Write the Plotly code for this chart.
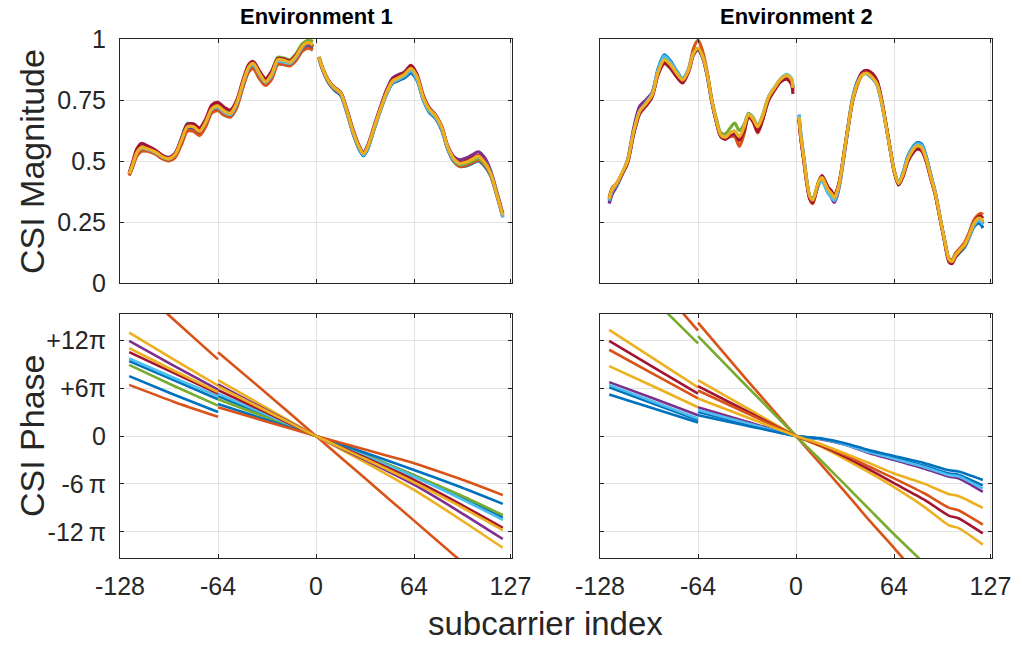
import plotly.graph_objects as go

# ---------------- colours (MATLAB default order) ----------------
C_BLUE = "#0072BD"
C_ORANGE = "#D95319"
C_YELLOW = "#EDB120"
C_PURPLE = "#7E2F8E"
C_GREEN = "#77AC30"
C_LBLUE = "#4DBEEE"
C_DRED = "#A2142F"

# ---------------- axis ticks ----------------
x_tick_vals = [-128, -64, 0, 64, 127]
x_tick_text = ["-128", "-64", "0", "64", "127"]
mag_tick_vals = [0, 0.25, 0.5, 0.75, 1]
mag_tick_text = ["0", "0.25", "0.5", "0.75", "1"]
phase_tick_vals = [-12, -6, 0, 6, 12]          # in units of pi
phase_tick_text = ["-12\u2009\u03c0", "-6\u2009\u03c0", "0", "+6\u03c0", "+12\u03c0"]

# ---------------- Environment 1 : magnitude ----------------
env1_mag_x_left = [-122, -120, -117, -114, -110, -105, -100, -96, -92, -88, -84, -80, -76, -72, -68, -64,
                   -60, -56, -52, -48, -44, -41, -37, -33, -29, -25, -21, -17, -13, -9, -5, -2]
env1_mag_x_right = [2, 4, 8, 12, 16, 20, 24, 28, 31, 34, 38, 42, 46, 50, 54, 58,
                    62, 66, 70, 74, 78, 82, 86, 90, 94, 98, 102, 106, 110, 114, 118, 122]

env1_mag_blue = [0.448, 0.478, 0.53, 0.55, 0.545, 0.532, 0.512, 0.505, 0.522, 0.575, 0.632, 0.628, 0.612, 0.65, 0.705, 0.715,
                 0.698, 0.688, 0.725, 0.805, 0.878, 0.89, 0.85, 0.82, 0.848, 0.9, 0.9, 0.895, 0.92, 0.96, 0.972, 0.965,
                 0.92, 0.878, 0.822, 0.79, 0.77, 0.7, 0.615, 0.55, 0.522, 0.552, 0.63, 0.705, 0.772, 0.818, 0.83, 0.842,
                 0.86, 0.83, 0.75, 0.7, 0.675, 0.628, 0.548, 0.498, 0.478, 0.48, 0.49, 0.5, 0.48, 0.44, 0.36, 0.27]
env1_mag_orange = [0.44, 0.47, 0.52, 0.54, 0.54, 0.528, 0.508, 0.5, 0.515, 0.565, 0.622, 0.622, 0.605, 0.642, 0.697, 0.706,
                   0.688, 0.68, 0.715, 0.795, 0.865, 0.878, 0.838, 0.81, 0.835, 0.895, 0.895, 0.89, 0.912, 0.95, 0.962, 0.955,
                   0.92, 0.88, 0.825, 0.795, 0.775, 0.705, 0.62, 0.555, 0.528, 0.56, 0.635, 0.708, 0.775, 0.822, 0.835, 0.85,
                   0.872, 0.838, 0.757, 0.708, 0.68, 0.635, 0.552, 0.5, 0.478, 0.482, 0.493, 0.503, 0.485, 0.445, 0.362, 0.272]
env1_mag_purple = [0.445, 0.478, 0.535, 0.555, 0.55, 0.538, 0.52, 0.515, 0.53, 0.58, 0.638, 0.638, 0.62, 0.658, 0.712, 0.722,
                   0.703, 0.692, 0.73, 0.81, 0.882, 0.895, 0.857, 0.825, 0.852, 0.91, 0.91, 0.9, 0.925, 0.962, 0.978, 0.97,
                   0.925, 0.885, 0.83, 0.8, 0.782, 0.715, 0.632, 0.565, 0.535, 0.568, 0.645, 0.72, 0.79, 0.84, 0.855, 0.862,
                   0.878, 0.84, 0.76, 0.712, 0.686, 0.642, 0.562, 0.518, 0.505, 0.512, 0.525, 0.538, 0.515, 0.462, 0.375, 0.285]
env1_mag_green = [0.45, 0.482, 0.538, 0.558, 0.552, 0.54, 0.518, 0.51, 0.53, 0.588, 0.648, 0.645, 0.628, 0.665, 0.72, 0.73,
                  0.712, 0.702, 0.742, 0.822, 0.89, 0.903, 0.865, 0.832, 0.862, 0.925, 0.922, 0.915, 0.94, 0.98, 0.995, 0.99,
                  0.928, 0.888, 0.832, 0.802, 0.782, 0.71, 0.625, 0.558, 0.528, 0.56, 0.636, 0.71, 0.778, 0.826, 0.84, 0.855,
                  0.878, 0.842, 0.76, 0.71, 0.684, 0.638, 0.555, 0.505, 0.485, 0.49, 0.5, 0.51, 0.49, 0.448, 0.365, 0.276]
env1_mag_lblue = [0.452, 0.485, 0.535, 0.552, 0.548, 0.535, 0.515, 0.508, 0.53, 0.59, 0.655, 0.645, 0.625, 0.66, 0.712, 0.72,
                  0.7, 0.69, 0.73, 0.81, 0.88, 0.895, 0.855, 0.822, 0.85, 0.908, 0.905, 0.9, 0.925, 0.965, 0.98, 0.97,
                  0.922, 0.882, 0.828, 0.798, 0.778, 0.706, 0.62, 0.555, 0.525, 0.558, 0.634, 0.708, 0.775, 0.822, 0.836, 0.85,
                  0.87, 0.836, 0.755, 0.706, 0.68, 0.635, 0.552, 0.505, 0.488, 0.495, 0.508, 0.518, 0.5, 0.455, 0.37, 0.268]
env1_mag_dred = [0.45, 0.49, 0.55, 0.572, 0.562, 0.545, 0.522, 0.513, 0.532, 0.59, 0.65, 0.652, 0.635, 0.672, 0.73, 0.74,
                 0.72, 0.708, 0.745, 0.825, 0.895, 0.908, 0.87, 0.838, 0.868, 0.92, 0.918, 0.91, 0.935, 0.97, 0.982, 0.97,
                 0.925, 0.885, 0.832, 0.802, 0.782, 0.712, 0.628, 0.562, 0.532, 0.565, 0.64, 0.716, 0.786, 0.835, 0.85, 0.866,
                 0.892, 0.855, 0.77, 0.718, 0.69, 0.643, 0.56, 0.512, 0.493, 0.5, 0.512, 0.523, 0.498, 0.452, 0.368, 0.28]
env1_mag_yellow = [0.447, 0.48, 0.535, 0.555, 0.55, 0.537, 0.517, 0.51, 0.527, 0.582, 0.64, 0.64, 0.622, 0.66, 0.715, 0.725,
                   0.705, 0.695, 0.735, 0.815, 0.885, 0.9, 0.86, 0.825, 0.855, 0.915, 0.913, 0.905, 0.93, 0.97, 0.985, 0.975,
                   0.925, 0.885, 0.83, 0.8, 0.78, 0.71, 0.625, 0.56, 0.53, 0.562, 0.638, 0.712, 0.78, 0.828, 0.842, 0.856,
                   0.88, 0.845, 0.762, 0.712, 0.686, 0.64, 0.558, 0.51, 0.49, 0.495, 0.507, 0.52, 0.495, 0.45, 0.366, 0.278]

# ---------------- Environment 2 : magnitude ----------------
env2_mag_x_left = [-122, -120, -117, -114, -110, -106, -102, -98, -94, -90, -86, -82, -78, -74, -70, -67, -64,
                   -61, -58, -55, -52, -49, -46, -43, -40, -37, -34, -31, -28, -25, -22, -18, -14, -10, -6, -3, -2]
env2_mag_x_right = [2, 3, 5, 7, 9, 11, 13, 15, 17, 19, 21, 23, 25, 27, 29, 31, 33, 35, 37, 40, 43, 46, 50, 53, 56,
                    59, 62, 64, 67, 70, 73, 76, 79, 82, 85, 88, 91, 94, 97, 100, 102, 104, 107, 110, 113, 116, 119, 121, 122]

env2_mag_blue = [0.33, 0.37, 0.4, 0.44, 0.495, 0.615, 0.7, 0.735, 0.775, 0.88, 0.935, 0.91, 0.87, 0.838, 0.878, 0.94, 0.955,
                 0.925, 0.85, 0.742, 0.66, 0.6, 0.595, 0.612, 0.62, 0.592, 0.632, 0.688, 0.668, 0.63, 0.675, 0.755, 0.795, 0.83, 0.845, 0.83, 0.8,
                 0.69, 0.62, 0.52, 0.422, 0.355, 0.345, 0.375, 0.41, 0.425, 0.398, 0.37, 0.355, 0.34, 0.37, 0.43, 0.515, 0.6, 0.685, 0.76, 0.825, 0.858, 0.858, 0.838, 0.81, 0.735,
                 0.635, 0.53, 0.465, 0.41, 0.455, 0.52, 0.555, 0.575, 0.57, 0.52, 0.445, 0.37, 0.272, 0.172, 0.092, 0.085, 0.105, 0.125, 0.145, 0.185, 0.228, 0.245, 0.238, 0.225]
env2_mag_orange = [0.35, 0.39, 0.41, 0.445, 0.5, 0.62, 0.705, 0.732, 0.765, 0.86, 0.905, 0.885, 0.852, 0.825, 0.88, 0.96, 0.995,
                   0.95, 0.865, 0.75, 0.665, 0.6, 0.59, 0.6, 0.6, 0.56, 0.61, 0.685, 0.66, 0.615, 0.665, 0.75, 0.795, 0.832, 0.848, 0.83, 0.79,
                   0.67, 0.6, 0.505, 0.41, 0.345, 0.325, 0.37, 0.415, 0.435, 0.415, 0.39, 0.375, 0.355, 0.382, 0.435, 0.515, 0.595, 0.675, 0.745, 0.81, 0.85, 0.862, 0.848, 0.82, 0.745,
                   0.64, 0.532, 0.462, 0.405, 0.44, 0.5, 0.535, 0.555, 0.55, 0.505, 0.43, 0.362, 0.268, 0.178, 0.1, 0.095, 0.12, 0.142, 0.165, 0.205, 0.255, 0.28, 0.285, 0.28]
env2_mag_purple = [0.325, 0.365, 0.398, 0.44, 0.505, 0.635, 0.725, 0.75, 0.78, 0.87, 0.915, 0.895, 0.858, 0.828, 0.872, 0.935, 0.955,
                   0.925, 0.852, 0.745, 0.662, 0.6, 0.59, 0.605, 0.61, 0.588, 0.63, 0.685, 0.668, 0.635, 0.675, 0.755, 0.795, 0.83, 0.845, 0.83, 0.8,
                   0.675, 0.605, 0.512, 0.418, 0.352, 0.34, 0.372, 0.41, 0.425, 0.4, 0.372, 0.352, 0.33, 0.36, 0.42, 0.505, 0.59, 0.675, 0.75, 0.818, 0.862, 0.87, 0.852, 0.822, 0.745,
                   0.64, 0.53, 0.46, 0.405, 0.448, 0.512, 0.548, 0.566, 0.56, 0.512, 0.438, 0.368, 0.27, 0.174, 0.093, 0.086, 0.11, 0.13, 0.15, 0.19, 0.238, 0.26, 0.255, 0.245]
env2_mag_green = [0.34, 0.38, 0.405, 0.445, 0.498, 0.618, 0.705, 0.735, 0.77, 0.865, 0.918, 0.898, 0.862, 0.832, 0.875, 0.942, 0.962,
                  0.93, 0.858, 0.752, 0.672, 0.615, 0.612, 0.635, 0.655, 0.625, 0.648, 0.695, 0.678, 0.645, 0.685, 0.762, 0.8, 0.835, 0.85, 0.835, 0.805,
                  0.68, 0.61, 0.515, 0.42, 0.355, 0.342, 0.38, 0.42, 0.435, 0.41, 0.385, 0.37, 0.352, 0.38, 0.432, 0.515, 0.598, 0.68, 0.752, 0.815, 0.852, 0.86, 0.842, 0.815, 0.74,
                  0.638, 0.53, 0.46, 0.402, 0.445, 0.508, 0.542, 0.562, 0.555, 0.508, 0.435, 0.366, 0.27, 0.175, 0.095, 0.088, 0.112, 0.134, 0.155, 0.195, 0.242, 0.265, 0.262, 0.252]
env2_mag_lblue = [0.338, 0.378, 0.405, 0.445, 0.497, 0.62, 0.705, 0.738, 0.775, 0.875, 0.93, 0.905, 0.868, 0.836, 0.878, 0.94, 0.958,
                  0.928, 0.855, 0.748, 0.665, 0.605, 0.598, 0.615, 0.622, 0.598, 0.638, 0.692, 0.672, 0.64, 0.68, 0.762, 0.802, 0.838, 0.855, 0.84, 0.805,
                  0.688, 0.618, 0.52, 0.42, 0.352, 0.342, 0.372, 0.405, 0.42, 0.395, 0.368, 0.352, 0.338, 0.368, 0.428, 0.512, 0.598, 0.682, 0.756, 0.82, 0.855, 0.86, 0.84, 0.812, 0.738,
                  0.636, 0.53, 0.463, 0.408, 0.452, 0.515, 0.55, 0.57, 0.565, 0.515, 0.44, 0.368, 0.27, 0.173, 0.093, 0.087, 0.108, 0.128, 0.148, 0.188, 0.235, 0.255, 0.25, 0.24]
env2_mag_dred = [0.345, 0.385, 0.408, 0.442, 0.492, 0.61, 0.695, 0.725, 0.762, 0.855, 0.9, 0.88, 0.845, 0.82, 0.868, 0.935, 0.958,
                 0.928, 0.855, 0.745, 0.662, 0.6, 0.592, 0.608, 0.612, 0.585, 0.622, 0.68, 0.662, 0.62, 0.665, 0.748, 0.79, 0.825, 0.835, 0.815, 0.775,
                 0.67, 0.6, 0.508, 0.412, 0.345, 0.33, 0.372, 0.418, 0.44, 0.418, 0.392, 0.378, 0.358, 0.385, 0.438, 0.518, 0.6, 0.68, 0.75, 0.815, 0.86, 0.872, 0.858, 0.828, 0.75,
                 0.642, 0.532, 0.46, 0.402, 0.438, 0.498, 0.53, 0.548, 0.542, 0.498, 0.428, 0.36, 0.265, 0.17, 0.085, 0.08, 0.105, 0.13, 0.152, 0.195, 0.245, 0.27, 0.272, 0.265]
env2_mag_yellow = [0.345, 0.385, 0.41, 0.447, 0.5, 0.62, 0.705, 0.735, 0.77, 0.865, 0.915, 0.895, 0.86, 0.832, 0.875, 0.94, 0.962,
                   0.93, 0.857, 0.748, 0.666, 0.606, 0.598, 0.615, 0.622, 0.6, 0.638, 0.69, 0.672, 0.64, 0.68, 0.76, 0.8, 0.835, 0.85, 0.835, 0.8,
                   0.68, 0.61, 0.516, 0.42, 0.355, 0.34, 0.378, 0.418, 0.432, 0.408, 0.382, 0.368, 0.35, 0.378, 0.432, 0.515, 0.598, 0.68, 0.752, 0.815, 0.852, 0.86, 0.842, 0.815, 0.74,
                   0.638, 0.53, 0.462, 0.408, 0.447, 0.508, 0.542, 0.562, 0.555, 0.508, 0.435, 0.366, 0.27, 0.175, 0.095, 0.088, 0.112, 0.134, 0.155, 0.195, 0.242, 0.265, 0.262, 0.25]

# ---------------- phase (units of pi) ----------------
phase_x_left = [-122, -93, -64]
env1_phase_x_right = [-64, -32, 0, 32, 64, 93, 122]
env2_phase_x_right = [-64, -32, 0, 16, 32, 48, 64, 84, 100, 106, 122]

# Environment 1: left piece / right piece
env1_ph_blue_l = [9.4, 7.0, 4.6];      env1_ph_blue_r = [5.0, 2.5, 0, -2.4, -4.9, -7.5, -10.2]
env1_ph_orange_l = [19.6, 14.6, 9.6];  env1_ph_orange_r = [10.5, 5.3, 0, -5.3, -10.6, -15.4, -20.2]
env1_ph_yellow_l = [12.96, 9.6, 6.3];  env1_ph_yellow_r = [7.0, 3.5, 0, -3.3, -6.75, -10.3, -14.0]
env1_ph_purple_l = [11.9, 8.8, 5.8];   env1_ph_purple_r = [6.45, 3.2, 0, -3.0, -6.1, -9.4, -12.9]
env1_ph_green_l = [8.9, 6.3, 3.8];     env1_ph_green_r = [4.6, 2.3, 0, -2.4, -4.9, -7.3, -9.9]
env1_ph_lblue_l = [9.7, 7.3, 5.0];     env1_ph_lblue_r = [5.3, 2.65, 0, -2.5, -5.1, -7.7, -10.5]
env1_ph_dred_l = [10.5, 7.9, 5.3];     env1_ph_dred_r = [5.75, 2.9, 0, -2.7, -5.5, -8.4, -11.5]
env1_ph_blue2_l = [7.5, 5.2, 3.0];     env1_ph_blue2_r = [4.0, 2.0, 0, -2.1, -4.25, -6.3, -8.5]
env1_ph_orange2_l = [6.4, 4.3, 2.4];   env1_ph_orange2_r = [3.6, 1.8, 0, -1.7, -3.4, -5.3, -7.4]
env1_ph_yellow2_l = [11.0, 8.2, 5.5];  env1_ph_yellow2_r = [6.2, 3.1, 0, -2.85, -5.8, -8.7, -11.8]

# Environment 2
env2_ph_blue_l = [6.1, 4.05, 2.0];     env2_ph_blue_r = [3.0, 1.5, 0, -0.35, -1.0, -2.0, -2.75, -3.75, -4.7, -4.85, -6.2]
env2_ph_orange_l = [26.0, 19.6, 13.2]; env2_ph_orange_r = [14.2, 7.0, 0, -3.5, -7.0, -10.6, -14.0, -18.5, -22.0, -23.3, -26.8]
env2_ph_yellow_l = [13.3, 9.7, 6.1];   env2_ph_yellow_r = [7.0, 3.5, 0, -1.3, -2.9, -4.6, -6.4, -8.9, -11.2, -11.5, -13.6]
env2_ph_purple_l = [6.75, 4.7, 2.6];   env2_ph_purple_r = [3.6, 1.8, 0, -0.4, -1.1, -2.15, -3.0, -4.1, -5.1, -5.3, -7.0]
env2_ph_green_l = [22.6, 17.1, 11.6];  env2_ph_green_r = [12.5, 6.2, 0, -3.0, -6.1, -9.2, -12.3, -16.0, -19.0, -20.0, -23.0]
env2_ph_lblue_l = [6.4, 4.3, 2.2];     env2_ph_lblue_r = [3.25, 1.6, 0, -0.35, -1.05, -2.05, -2.85, -3.9, -4.9, -5.05, -6.6]
env2_ph_dred_l = [11.9, 8.6, 5.3];     env2_ph_dred_r = [6.25, 3.1, 0, -1.2, -2.6, -4.2, -5.9, -8.0, -10.0, -10.3, -12.2]
env2_ph_blue2_l = [5.2, 3.45, 1.7];    env2_ph_blue2_r = [2.6, 1.3, 0, -0.3, -0.9, -1.8, -2.5, -3.4, -4.3, -4.45, -5.5]
env2_ph_orange2_l = [10.8, 7.75, 4.7]; env2_ph_orange2_r = [5.7, 2.85, 0, -1.1, -2.4, -3.85, -5.3, -7.2, -9.0, -9.3, -11.1]
env2_ph_yellow2_l = [8.75, 6.2, 3.6];  env2_ph_yellow2_r = [4.7, 2.35, 0, -1.0, -2.2, -3.4, -4.7, -6.0, -7.3, -7.5, -9.0]

# ---------------- build figure ----------------
W, H = 1016, 645
FONT = "Liberation Sans, Arial, Helvetica, sans-serif"
TXT = "#262626"

fig = go.Figure()

env1_mag = [(C_BLUE, env1_mag_blue), (C_ORANGE, env1_mag_orange), (C_PURPLE, env1_mag_purple),
            (C_GREEN, env1_mag_green), (C_LBLUE, env1_mag_lblue), (C_DRED, env1_mag_dred),
            (C_YELLOW, env1_mag_yellow)]
env2_mag = [(C_BLUE, env2_mag_blue), (C_ORANGE, env2_mag_orange), (C_PURPLE, env2_mag_purple),
            (C_GREEN, env2_mag_green), (C_LBLUE, env2_mag_lblue), (C_DRED, env2_mag_dred),
            (C_YELLOW, env2_mag_yellow)]


def add_mag(series, xl, xr, xa, ya):
    n = len(xl)
    for col, vals in series:
        assert len(vals) == n + len(xr), (col, len(vals))
        fig.add_trace(go.Scatter(
            x=xl + [None] + xr, y=vals[:n] + [None] + vals[n:],
            mode="lines", line=dict(color=col, width=3.2, shape="spline", smoothing=0.8),
            connectgaps=False, xaxis=xa, yaxis=ya, showlegend=False, hoverinfo="skip"))


add_mag(env1_mag, env1_mag_x_left, env1_mag_x_right, "x", "y")
add_mag(env2_mag, env2_mag_x_left, env2_mag_x_right, "x2", "y2")

env1_ph = [(C_BLUE, env1_ph_blue_l, env1_ph_blue_r), (C_ORANGE, env1_ph_orange_l, env1_ph_orange_r),
           (C_YELLOW, env1_ph_yellow_l, env1_ph_yellow_r), (C_PURPLE, env1_ph_purple_l, env1_ph_purple_r),
           (C_GREEN, env1_ph_green_l, env1_ph_green_r), (C_LBLUE, env1_ph_lblue_l, env1_ph_lblue_r),
           (C_DRED, env1_ph_dred_l, env1_ph_dred_r), (C_BLUE, env1_ph_blue2_l, env1_ph_blue2_r),
           (C_ORANGE, env1_ph_orange2_l, env1_ph_orange2_r), (C_YELLOW, env1_ph_yellow2_l, env1_ph_yellow2_r)]
env2_ph = [(C_BLUE, env2_ph_blue_l, env2_ph_blue_r), (C_ORANGE, env2_ph_orange_l, env2_ph_orange_r),
           (C_YELLOW, env2_ph_yellow_l, env2_ph_yellow_r), (C_PURPLE, env2_ph_purple_l, env2_ph_purple_r),
           (C_GREEN, env2_ph_green_l, env2_ph_green_r), (C_LBLUE, env2_ph_lblue_l, env2_ph_lblue_r),
           (C_DRED, env2_ph_dred_l, env2_ph_dred_r), (C_BLUE, env2_ph_blue2_l, env2_ph_blue2_r),
           (C_ORANGE, env2_ph_orange2_l, env2_ph_orange2_r), (C_YELLOW, env2_ph_yellow2_l, env2_ph_yellow2_r)]


def add_phase(series, xr, xa, ya):
    for col, left, right in series:
        fig.add_trace(go.Scatter(
            x=phase_x_left + [None] + xr, y=left + [None] + right,
            mode="lines", line=dict(color=col, width=2.6, shape="spline", smoothing=0.6),
            connectgaps=False, xaxis=xa, yaxis=ya, showlegend=False, hoverinfo="skip"))


add_phase(env1_ph, env1_phase_x_right, "x3", "y3")
add_phase(env2_ph, env2_phase_x_right, "x4", "y4")

# domains in pixels
L1, R1, L2, R2 = 120, 512, 600, 992
T1, B1, T2, B2 = 39, 283, 314, 558
dx1 = [L1 / W, R1 / W]
dx2 = [L2 / W, R2 / W]
dy1 = [1 - B1 / H, 1 - T1 / H]
dy2 = [1 - B2 / H, 1 - T2 / H]

common = dict(showline=True, linecolor=TXT, linewidth=1, mirror="ticks", ticks="inside", ticklen=4,
              tickcolor=TXT, tickwidth=1, showgrid=True, gridcolor="#e3e3e3", gridwidth=1,
              zeroline=False, automargin=False, tickfont=dict(family=FONT, size=25, color=TXT))

xa = dict(common, range=[-128, 128], tickvals=x_tick_vals, ticktext=x_tick_text)
ya_mag = dict(common, range=[0, 1], tickvals=mag_tick_vals, ticktext=mag_tick_text)
ya_ph = dict(common, range=[-48 / 3.14159265, 48 / 3.14159265], tickvals=phase_tick_vals, ticktext=phase_tick_text)

fig.update_layout(
    width=W, height=H, margin=dict(l=0, r=0, t=0, b=0, autoexpand=False),
    paper_bgcolor="white", plot_bgcolor="white",
    xaxis=dict(xa, domain=dx1, anchor="y", showticklabels=False),
    yaxis=dict(ya_mag, domain=dy1, anchor="x", ticklabelstandoff=8),
    xaxis2=dict(xa, domain=dx2, anchor="y2", showticklabels=False),
    yaxis2=dict(ya_mag, domain=dy1, anchor="x2", showticklabels=False),
    xaxis3=dict(xa, domain=dx1, anchor="y3", ticklabelstandoff=6),
    yaxis3=dict(ya_ph, domain=dy2, anchor="x3", ticklabelstandoff=8),
    xaxis4=dict(xa, domain=dx2, anchor="y4", ticklabelstandoff=6),
    yaxis4=dict(ya_ph, domain=dy2, anchor="x4", showticklabels=False),
)

annots = [
    dict(text="<b>Environment 1</b>", x=(L1 + R1) / 2 / W, y=1 - 17 / H, size=22, angle=0),
    dict(text="<b>Environment 2</b>", x=(L2 + R2) / 2 / W, y=1 - 17 / H, size=22, angle=0),
    dict(text="CSI Magnitude", x=32 / W, y=1 - 162 / H, size=34, angle=-90),
    dict(text="CSI Phase", x=32 / W, y=1 - 436 / H, size=34, angle=-90),
    dict(text="subcarrier index", x=545 / W, y=1 - 623 / H, size=33, angle=0),
]
for a in annots:
    fig.add_annotation(text=a["text"], x=a["x"], y=a["y"], xref="paper", yref="paper",
                       xanchor="center", yanchor="middle", showarrow=False, textangle=a["angle"],
                       font=dict(family=FONT, size=a["size"], color="black" if a["size"] == 22 else TXT))

fig.write_html("out.html")
